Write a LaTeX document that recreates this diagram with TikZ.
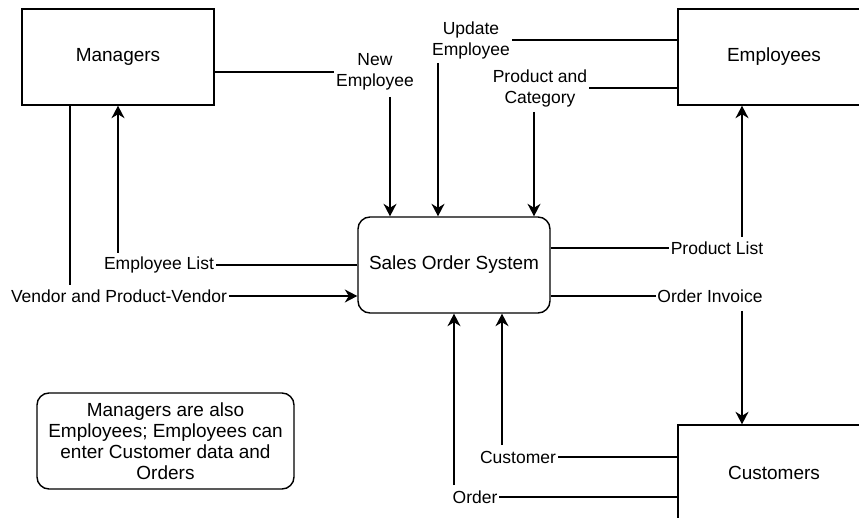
\documentclass[tikz,border=0pt]{standalone}
\usepackage{fontspec}
\setmainfont{Liberation Sans}
\usetikzlibrary{arrows.meta}
\begin{document}
\begin{tikzpicture}[x=1pt,y=-1pt, line width=1.4pt,
  box/.style={draw, minimum width=192pt, minimum height=96pt, inner sep=0pt, font=\fontsize{19}{21}\selectfont},
  lbl/.style={inner sep=1pt, font=\fontsize{17.5}{21}\selectfont, align=center},
  arr/.style={-{Stealth[length=12.5pt,width=13pt,inset=4pt]}}]
\useasboundingbox (0,0) rectangle (859,518);
\clip (0,0) rectangle (859,518);
\node[box] (mgr) at (118,57) {Managers};
\node[box] (emp) at (774,57) {Employees};
\node[box] (cus) at (774,473) {Customers};
\node[box, rounded corners=12pt] (sos) at (454,265) {Sales Order System};
\node[draw, rounded corners=12pt, minimum width=257pt, minimum height=96pt, inner sep=0pt, align=center, font=\fontsize{19}{21}\selectfont] (note) at (165.5,441) {Managers are also\\Employees; Employees can\\enter Customer data and\\Orders};
\node[lbl] (lnew) at (375,72) {New\\Employee};
\node[lbl] (lupd) at (471,40) {Update\\Employee};
\node[lbl] (lpc) at (540,88) {Product and\\Category};
\node[lbl] (lpl) at (717,248) {Product List};
\node[lbl] (loi) at (710,296) {Order Invoice};
\node[lbl] (lcu) at (518,457) {Customer};
\node[lbl] (lor) at (475,497) {Order};
\node[lbl] (lel) at (159,265) {Employee List};
\node[lbl] (lvp) at (119,296) {Vendor and Product-Vendor};
\draw (mgr.east |- lnew) -- (lnew.west);
\coordinate (cnew) at (390,97);
\draw[arr] (cnew) -- (cnew |- sos.north);
\draw (emp.west |- lupd) -- (lupd.east);
\coordinate (cupd) at (438,63);
\draw[arr] (cupd) -- (cupd |- sos.north);
\draw (emp.west |- lpc) -- (lpc.east);
\coordinate (cpc) at (534,112);
\draw[arr] (cpc) -- (cpc |- sos.north);
\draw (sos.east |- lpl) -- (lpl.west);
\coordinate (cpl) at (742,237);
\draw[arr] (cpl) -- (cpl |- emp.south);
\draw (sos.east |- loi) -- (loi.west);
\coordinate (coi) at (742,311);
\draw[arr] (coi) -- (coi |- cus.north);
\draw (cus.west |- lcu) -- (lcu.east);
\coordinate (ccu) at (502,445);
\draw[arr] (ccu) -- (ccu |- sos.south);
\draw (cus.west |- lor) -- (lor.east);
\coordinate (cor) at (454,485);
\draw[arr] (cor) -- (cor |- sos.south);
\draw (sos.west |- lel) -- (lel.east);
\coordinate (cel) at (118,253);
\draw[arr] (cel) -- (cel |- mgr.south);
\coordinate (cvp) at (70,285);
\draw (cvp |- mgr.south) -- (cvp);
\draw[arr] (lvp.east) -- (lvp.east -| sos.west);
\end{tikzpicture}
\end{document}
